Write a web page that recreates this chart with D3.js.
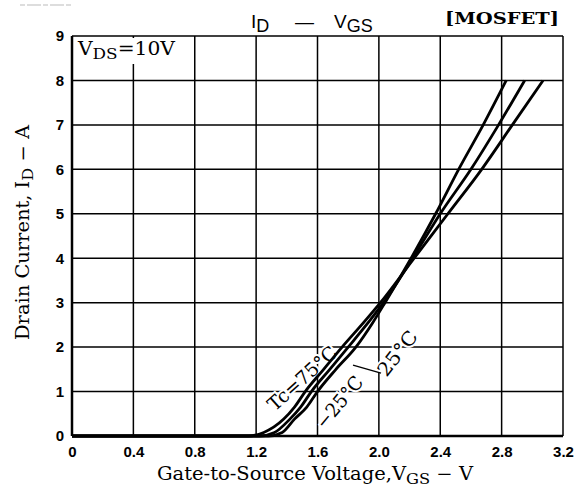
<!DOCTYPE html>
<html>
<head>
<meta charset="utf-8">
<script src="https://cdn.jsdelivr.net/npm/d3@7/dist/d3.min.js"></script>
<style>
  html, body { margin: 0; padding: 0; background: #fff; }
  svg { display: block; }
  .serif { font-family: "DejaVu Serif", "Liberation Serif", serif; }
  .sans { font-family: "Liberation Sans", Arial, sans-serif; }
</style>
</head>
<body>
<svg id="chart" width="588" height="491"></svg>
<script>
// ---- data ----
const xTicks = [0, 0.4, 0.8, 1.2, 1.6, 2.0, 2.4, 2.8, 3.2];
const xTickLabels = ["0", "0.4", "0.8", "1.2", "1.6", "2.0", "2.4", "2.8", "3.2"];
const yTicks = [0, 1, 2, 3, 4, 5, 6, 7, 8, 9];
const yTickLabels = ["0", "1", "2", "3", "4", "5", "6", "7", "8", "9"];

const seriesNames = ["Tc=75°C", "25°C", "−25°C"];
const vgs75 = [0, 1.15, 1.25, 1.38, 1.45, 1.52, 1.64, 1.76, 1.90, 2.01, 2.23, 2.45, 2.67, 2.87, 3.07];
const id75  = [0, 0, 0.08, 0.38, 0.65, 1.0, 1.5, 2.0, 2.55, 3.0, 4.0, 5.0, 6.0, 7.0, 8.0];
const vgs25 = [0, 1.22, 1.32, 1.42, 1.49, 1.56, 1.68, 1.80, 1.93, 2.03, 2.22, 2.40, 2.60, 2.78, 2.95];
const id25  = [0, 0, 0.08, 0.38, 0.65, 1.0, 1.5, 2.0, 2.55, 3.0, 4.0, 5.0, 6.0, 7.0, 8.0];
const vgsM25 = [0, 1.28, 1.37, 1.45, 1.53, 1.60, 1.72, 1.85, 1.96, 2.04, 2.21, 2.37, 2.52, 2.68, 2.83];
const idM25  = [0, 0, 0.08, 0.38, 0.65, 1.0, 1.5, 2.0, 2.55, 3.0, 4.0, 5.0, 6.0, 7.0, 8.0];

// ---- layout ----
const svg = d3.select("#chart");
const L = 72, R = 563, T = 36, B = 436;
const x = d3.scaleLinear().domain([0, 3.2]).range([L, R]);
const y = d3.scaleLinear().domain([0, 9]).range([B, T]);

// grid
const grid = svg.append("g");
grid.selectAll("line.v").data(xTicks).join("line")
  .attr("x1", d => x(d)).attr("x2", d => x(d))
  .attr("y1", T).attr("y2", B)
  .attr("stroke", "#000").attr("stroke-width", 1.5);
grid.selectAll("line.h").data(yTicks).join("line")
  .attr("x1", L).attr("x2", R)
  .attr("y1", d => y(d)).attr("y2", d => y(d))
  .attr("stroke", "#000").attr("stroke-width", 1.5);
// frame
svg.append("line").attr("x1", L).attr("x2", L).attr("y1", T).attr("y2", B)
  .attr("stroke", "#000").attr("stroke-width", 2.5);
svg.append("line").attr("x1", L).attr("x2", R).attr("y1", B).attr("y2", B)
  .attr("stroke", "#000").attr("stroke-width", 2.5);

// axes (labels only)
const xAxis = d3.axisBottom(x).tickValues(xTicks)
  .tickFormat((d, i) => xTickLabels[i]).tickSize(0).tickPadding(10);
const gx = svg.append("g").attr("transform", `translate(0,${B})`).call(xAxis);
gx.select(".domain").remove();
gx.selectAll("text").attr("class", "sans").attr("font-size", 15)
  .attr("font-weight", "bold").attr("fill", "#000");

const yAxis = d3.axisLeft(y).tickValues(yTicks)
  .tickFormat((d, i) => yTickLabels[i]).tickSize(0).tickPadding(8);
const gy = svg.append("g").attr("transform", `translate(${L},0)`).call(yAxis);
gy.select(".domain").remove();
gy.selectAll("text").attr("class", "sans").attr("font-size", 15)
  .attr("font-weight", "bold").attr("fill", "#000");

// curve labels (drawn before curves so curves stay continuous)
function label(txt, cx, cy, ang, len) {
  svg.append("text").attr("class", "serif")
    .attr("transform", `translate(${cx},${cy}) rotate(${ang})`)
    .attr("text-anchor", "middle").attr("dominant-baseline", "central")
    .attr("font-size", 19).attr("fill", "#000")
    .attr("textLength", len).attr("lengthAdjust", "spacingAndGlyphs")
    .attr("stroke", "#fff").attr("stroke-width", 4).attr("paint-order", "stroke")
    .text(txt);
}
label(seriesNames[0], 302, 378, -42, 86);
label(seriesNames[2], 339, 402, -50, 62);
label(seriesNames[1], 397, 353, -52, 52);
svg.append("line").attr("x1", 353).attr("y1", 365).attr("x2", 381).attr("y2", 373)
  .attr("stroke", "#000").attr("stroke-width", 1.3);

// curves
const series = [
  { name: seriesNames[0], v: vgs75, i: id75 },
  { name: seriesNames[1], v: vgs25, i: id25 },
  { name: seriesNames[2], v: vgsM25, i: idM25 }
];
const line = d3.line().x(d => x(d[0])).y(d => y(d[1])).curve(d3.curveMonotoneX);
svg.append("g").selectAll("path").data(series).join("path")
  .attr("d", s => line(s.v.map((v, k) => [v, s.i[k]])))
  .attr("fill", "none").attr("stroke", "#000").attr("stroke-width", 2.8);

// VDS label with white box
svg.append("rect").attr("x", L + 2).attr("y", T + 2).attr("width", 112).attr("height", 26).attr("fill", "#fff");
const vds = svg.append("text").attr("class", "serif").attr("x", 78).attr("y", 55)
  .attr("font-size", 18).attr("fill", "#000")
  .attr("textLength", 97).attr("lengthAdjust", "spacingAndGlyphs");
vds.append("tspan").text("V");
vds.append("tspan").attr("dy", 4).attr("font-size", 15).text("DS");
vds.append("tspan").attr("dy", -4).text("=10V");

// title
const title = svg.append("text").attr("class", "sans").attr("y", 28).attr("font-size", 19).attr("fill", "#000");
title.append("tspan").attr("x", 251).text("I");
title.append("tspan").attr("dy", 4).attr("font-size", 18).text("D");
title.append("tspan").attr("x", 295).attr("dy", -4).text("—");
title.append("tspan").attr("x", 334).text("V");
title.append("tspan").attr("dy", 4).attr("font-size", 18).text("GS");
svg.append("text").attr("class", "serif").attr("x", 445).attr("y", 24)
  .attr("font-size", 17).attr("font-weight", "bold").attr("fill", "#000")
  .attr("textLength", 114).attr("lengthAdjust", "spacingAndGlyphs")
  .text("[MOSFET]");

// axis titles
const xt = svg.append("text").attr("class", "serif").attr("x", 157).attr("y", 480)
  .attr("font-size", 18).attr("fill", "#000")
  .attr("textLength", 316).attr("lengthAdjust", "spacingAndGlyphs");
xt.append("tspan").text("Gate-to-Source Voltage,V");
xt.append("tspan").attr("dy", 4).attr("font-size", 15).text("GS");
xt.append("tspan").attr("dy", -4).text(" − V");

const yt = svg.append("text").attr("class", "serif")
  .attr("transform", "translate(29,340) rotate(-90)")
  .attr("font-size", 18).attr("fill", "#000")
  .attr("textLength", 215).attr("lengthAdjust", "spacingAndGlyphs");
yt.append("tspan").text("Drain Current, I");
yt.append("tspan").attr("dy", 4).attr("font-size", 15).text("D");
yt.append("tspan").attr("dy", -4).text(" − A");

// faint scan mark at top-left
svg.append("line").attr("x1", 20).attr("x2", 71).attr("y1", 5).attr("y2", 5)
  .attr("stroke", "#bbb").attr("stroke-width", 1).attr("stroke-dasharray", "5,2,14,2");
</script>
</body>
</html>
